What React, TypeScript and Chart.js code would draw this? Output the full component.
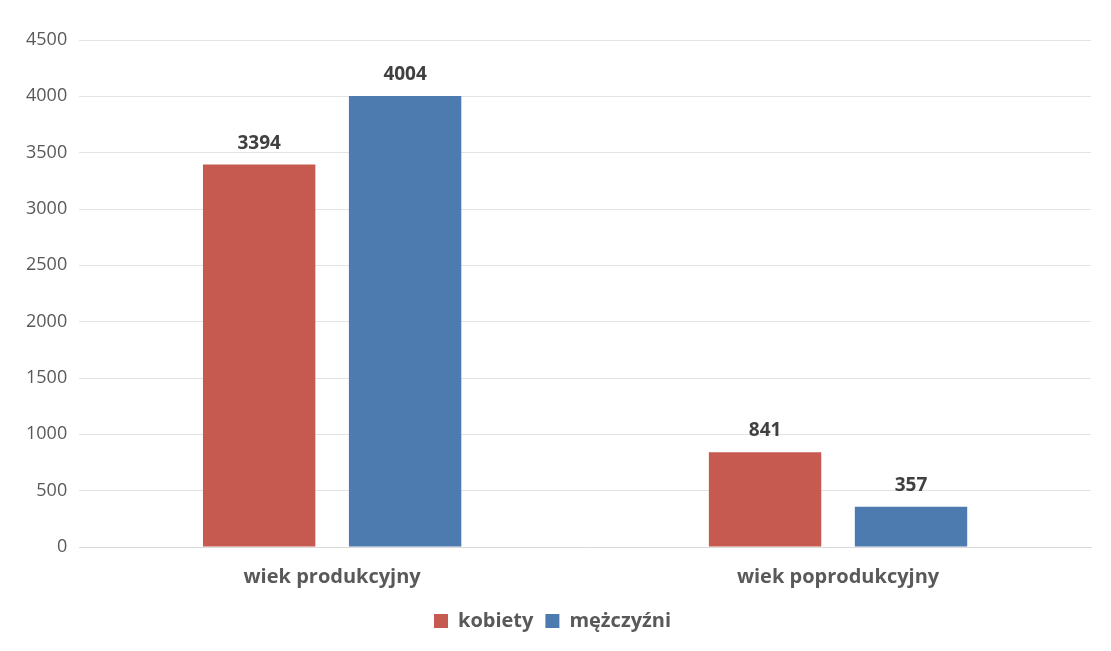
import React, { useEffect, useRef } from "react";
import { Chart, registerables } from "chart.js";

Chart.register(...registerables);

const categories = ["wiek produkcyjny", "wiek poprodukcyjny"];
const seriesNames = ["kobiety", "mężczyźni"];
const kobiety = [3394, 841];
const mezczyzni = [4004, 357];
const yTicks = [0, 500, 1000, 1500, 2000, 2500, 3000, 3500, 4000, 4500];

const RED = "#c65a50";
const BLUE = "#4d7bb0";
const TEXT = "#595959";
const FONT = "'Open Sans', 'Liberation Sans', sans-serif";

const valueLabels = {
  id: "valueLabels",
  afterDatasetsDraw(chart: any) {
    const ctx = chart.ctx;
    ctx.save();
    ctx.font = `bold 19px ${FONT}`;
    ctx.fillStyle = "#404040";
    ctx.textAlign = "center";
    ctx.textBaseline = "bottom";
    chart.data.datasets.forEach((ds: any, i: number) => {
      const meta = chart.getDatasetMeta(i);
      meta.data.forEach((bar: any, j: number) => {
        ctx.fillText(String(ds.data[j]), bar.x, bar.y - 12);
      });
    });
    ctx.restore();
  },
};

export default function App() {
  const ref = useRef<HTMLCanvasElement>(null);
  useEffect(() => {
    const chart = new Chart(ref.current!, {
      type: "bar",
      data: {
        labels: categories,
        datasets: [
          { label: seriesNames[0], data: kobiety, backgroundColor: RED },
          { label: seriesNames[1], data: mezczyzni, backgroundColor: BLUE },
        ],
      },
      options: {
        animation: false,
        responsive: false,
        maintainAspectRatio: false,
        layout: { padding: { top: 40, right: 20, bottom: 10, left: 14 } },
        datasets: {
          bar: { categoryPercentage: 0.577, barPercentage: 0.77 },
        },
        plugins: {
          legend: {
            position: "bottom",
            labels: {
              boxWidth: 14,
              boxHeight: 14,
              color: TEXT,
              font: { family: FONT, size: 20, weight: "bold" },
              padding: 12,
            },
          },
          tooltip: { enabled: false },
        },
        scales: {
          x: {
            grid: { display: false },
            border: { display: true, color: "#d9d9d9" },
            ticks: {
              color: TEXT,
              font: { family: FONT, size: 20, weight: "bold" },
              padding: 10,
            },
          },
          y: {
            min: 0,
            max: 4500,
            afterBuildTicks: (axis: any) => {
              axis.ticks = yTicks.map((v) => ({ value: v }));
            },
            grid: { color: "#e3e3e3", drawTicks: false },
            border: { display: false },
            ticks: {
              color: TEXT,
              font: { family: FONT, size: 18 },
              padding: 12,
              callback: (v: any) => String(v),
            },
          },
        },
      },
      plugins: [valueLabels],
    });
    return () => chart.destroy();
  }, []);
  return (
    <div style={{ position: "fixed", left: 0, top: 0, width: 1111, height: 651, background: "#fff" }}>
      <canvas ref={ref} width={1111} height={651} />
    </div>
  );
}
